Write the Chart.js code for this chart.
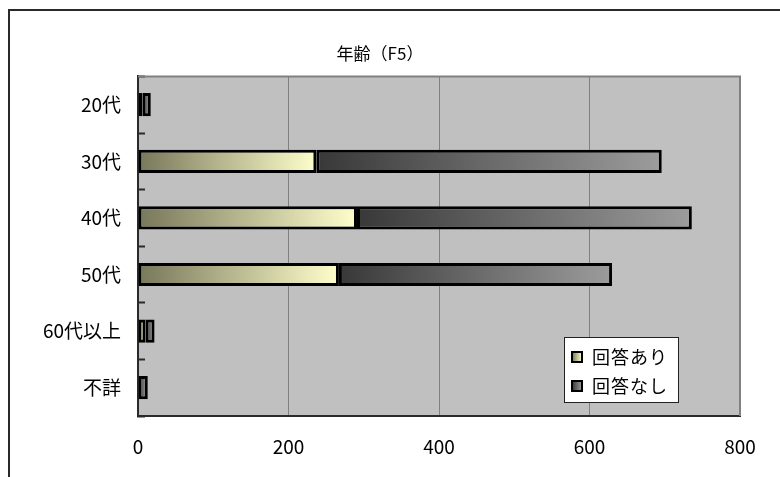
<!DOCTYPE html>
<html>
<head>
<meta charset="utf-8">
<script src="https://cdn.jsdelivr.net/npm/chart.js@4"></script>
<style>
  body { margin: 0; background: #fff; }
  canvas { display: block; }
</style>
</head>
<body>
<canvas id="ageChart" width="780" height="477"></canvas>
<script>
const ageGroups = ["20代", "30代", "40代", "50代", "60代以上", "不詳"];
const answered = [6, 237, 291, 267, 10, 0];
const notAnswered = [11, 459, 445, 363, 12, 13];
const xTicks = [0, 200, 400, 600, 800];

const FONT = "'Noto Sans CJK JP', 'Noto Sans', sans-serif";
const ariStops = ["#77775a", "#ffffcc"];
const nashiStops = ["#383838", "#9c9c9c"];

function barFill(c, stops) {
    const chart = c.chart;
    const x = chart.scales.x;
    if (!x || c.type !== "data") return stops[0];
    const i = c.dataIndex;
    const start = c.datasetIndex === 0 ? 0 : answered[i];
    const x0 = x.getPixelForValue(start);
    const x1 = x.getPixelForValue(start + c.raw);
    if (!isFinite(x0) || !isFinite(x1) || x1 - x0 < 1) return stops[1];
    const g = chart.ctx.createLinearGradient(x0, 0, x1, 0);
    g.addColorStop(0, stops[0]);
    g.addColorStop(1, stops[1]);
    return g;
}

// frame, plot background and the floating legend
const framePlugin = {
    id: "frame",
    beforeDraw(chart) {
        const ctx = chart.ctx;
        const a = chart.chartArea;
        ctx.save();
        ctx.strokeStyle = "#2a2a2a";
        ctx.lineWidth = 2;
        ctx.beginPath();
        ctx.moveTo(9, chart.height + 2);
        ctx.lineTo(9, 10);
        ctx.lineTo(chart.width + 2, 10);
        ctx.stroke();
        ctx.fillStyle = "#c0c0c0";
        ctx.fillRect(a.left, a.top, a.right - a.left, a.bottom - a.top);
        ctx.restore();
    },
    beforeDatasetsDraw(chart) {
        const ctx = chart.ctx;
        const a = chart.chartArea;
        ctx.save();
        ctx.strokeStyle = "#808080";
        ctx.lineWidth = 2;
        ctx.beginPath();
        ctx.moveTo(a.left, a.top);
        ctx.lineTo(a.right, a.top);
        ctx.lineTo(a.right, a.bottom);
        ctx.stroke();
        ctx.restore();
    },
    afterDraw(chart) {
        const ctx = chart.ctx;
        const a = chart.chartArea;
        const bx = a.right - 176, by = a.bottom - 79, bw = 114, bh = 65;
        ctx.save();
        ctx.fillStyle = "#fff";
        ctx.fillRect(bx, by, bw, bh);
        ctx.strokeStyle = "#222";
        ctx.lineWidth = 1;
        ctx.strokeRect(bx + 0.5, by + 0.5, bw, bh);
        ctx.font = "18px " + FONT;
        ctx.textBaseline = "middle";
        ctx.fillStyle = "#000";
        if ("letterSpacing" in ctx) ctx.letterSpacing = "1px";
        const stopsList = [ariStops, nashiStops];
        chart.data.datasets.forEach((ds, k) => {
            const cy = by + 20 + k * 29;
            const sx = bx + 8, sy = cy - 5;
            const g = ctx.createLinearGradient(sx, 0, sx + 10, 0);
            g.addColorStop(0, stopsList[k][0]);
            g.addColorStop(1, stopsList[k][1]);
            ctx.fillStyle = g;
            ctx.fillRect(sx, sy, 10, 10);
            ctx.strokeStyle = "#000";
            ctx.lineWidth = 2;
            ctx.strokeRect(sx, sy, 10, 10);
            ctx.fillStyle = "#000";
            ctx.fillText(ds.label, bx + 28, cy);
        });
        ctx.restore();
    }
};

new Chart(document.getElementById("ageChart"), {
    type: "bar",
    data: {
        labels: ageGroups,
        datasets: [{
            label: "回答あり",
            data: answered,
            backgroundColor: c => barFill(c, ariStops)
        }, {
            label: "回答なし",
            data: notAnswered,
            backgroundColor: c => barFill(c, nashiStops)
        }]
    },
    options: {
        indexAxis: "y",
        responsive: false,
        animation: false,
        layout: { padding: { left: 20, right: 40, top: 0, bottom: 0 } },
        datasets: {
            bar: {
                borderColor: "#000",
                borderWidth: 3,
                borderSkipped: false,
                barPercentage: 0.41,
                categoryPercentage: 1
            }
        },
        plugins: {
            legend: { display: false },
            tooltip: { enabled: false },
            title: {
                display: true,
                text: "年齢（F5）",
                color: "#000",
                font: { family: FONT, size: 17, weight: "normal" },
                padding: { top: 43, bottom: 13 }
            }
        },
        scales: {
            x: {
                stacked: true,
                min: xTicks[0],
                max: xTicks[xTicks.length - 1],
                afterBuildTicks: s => { s.ticks = xTicks.map(v => ({ value: v })); },
                afterFit: s => { s.height = 61; },
                grid: { color: "#808080", lineWidth: 1, drawTicks: false },
                border: { color: "#2a2a2a", width: 2 },
                ticks: { color: "#000", padding: 19, font: { family: FONT, size: 19 } }
            },
            y: {
                stacked: true,
                afterFit: s => { s.width = 118; },
                grid: {
                    drawOnChartArea: false,
                    tickLength: -7,
                    tickColor: "#2a2a2a",
                    tickWidth: 2
                },
                border: { color: "#2a2a2a", width: 2 },
                ticks: { color: "#000", padding: 24, font: { family: FONT, size: 19 } }
            }
        }
    },
    plugins: [framePlugin]
});
</script>
</body>
</html>
